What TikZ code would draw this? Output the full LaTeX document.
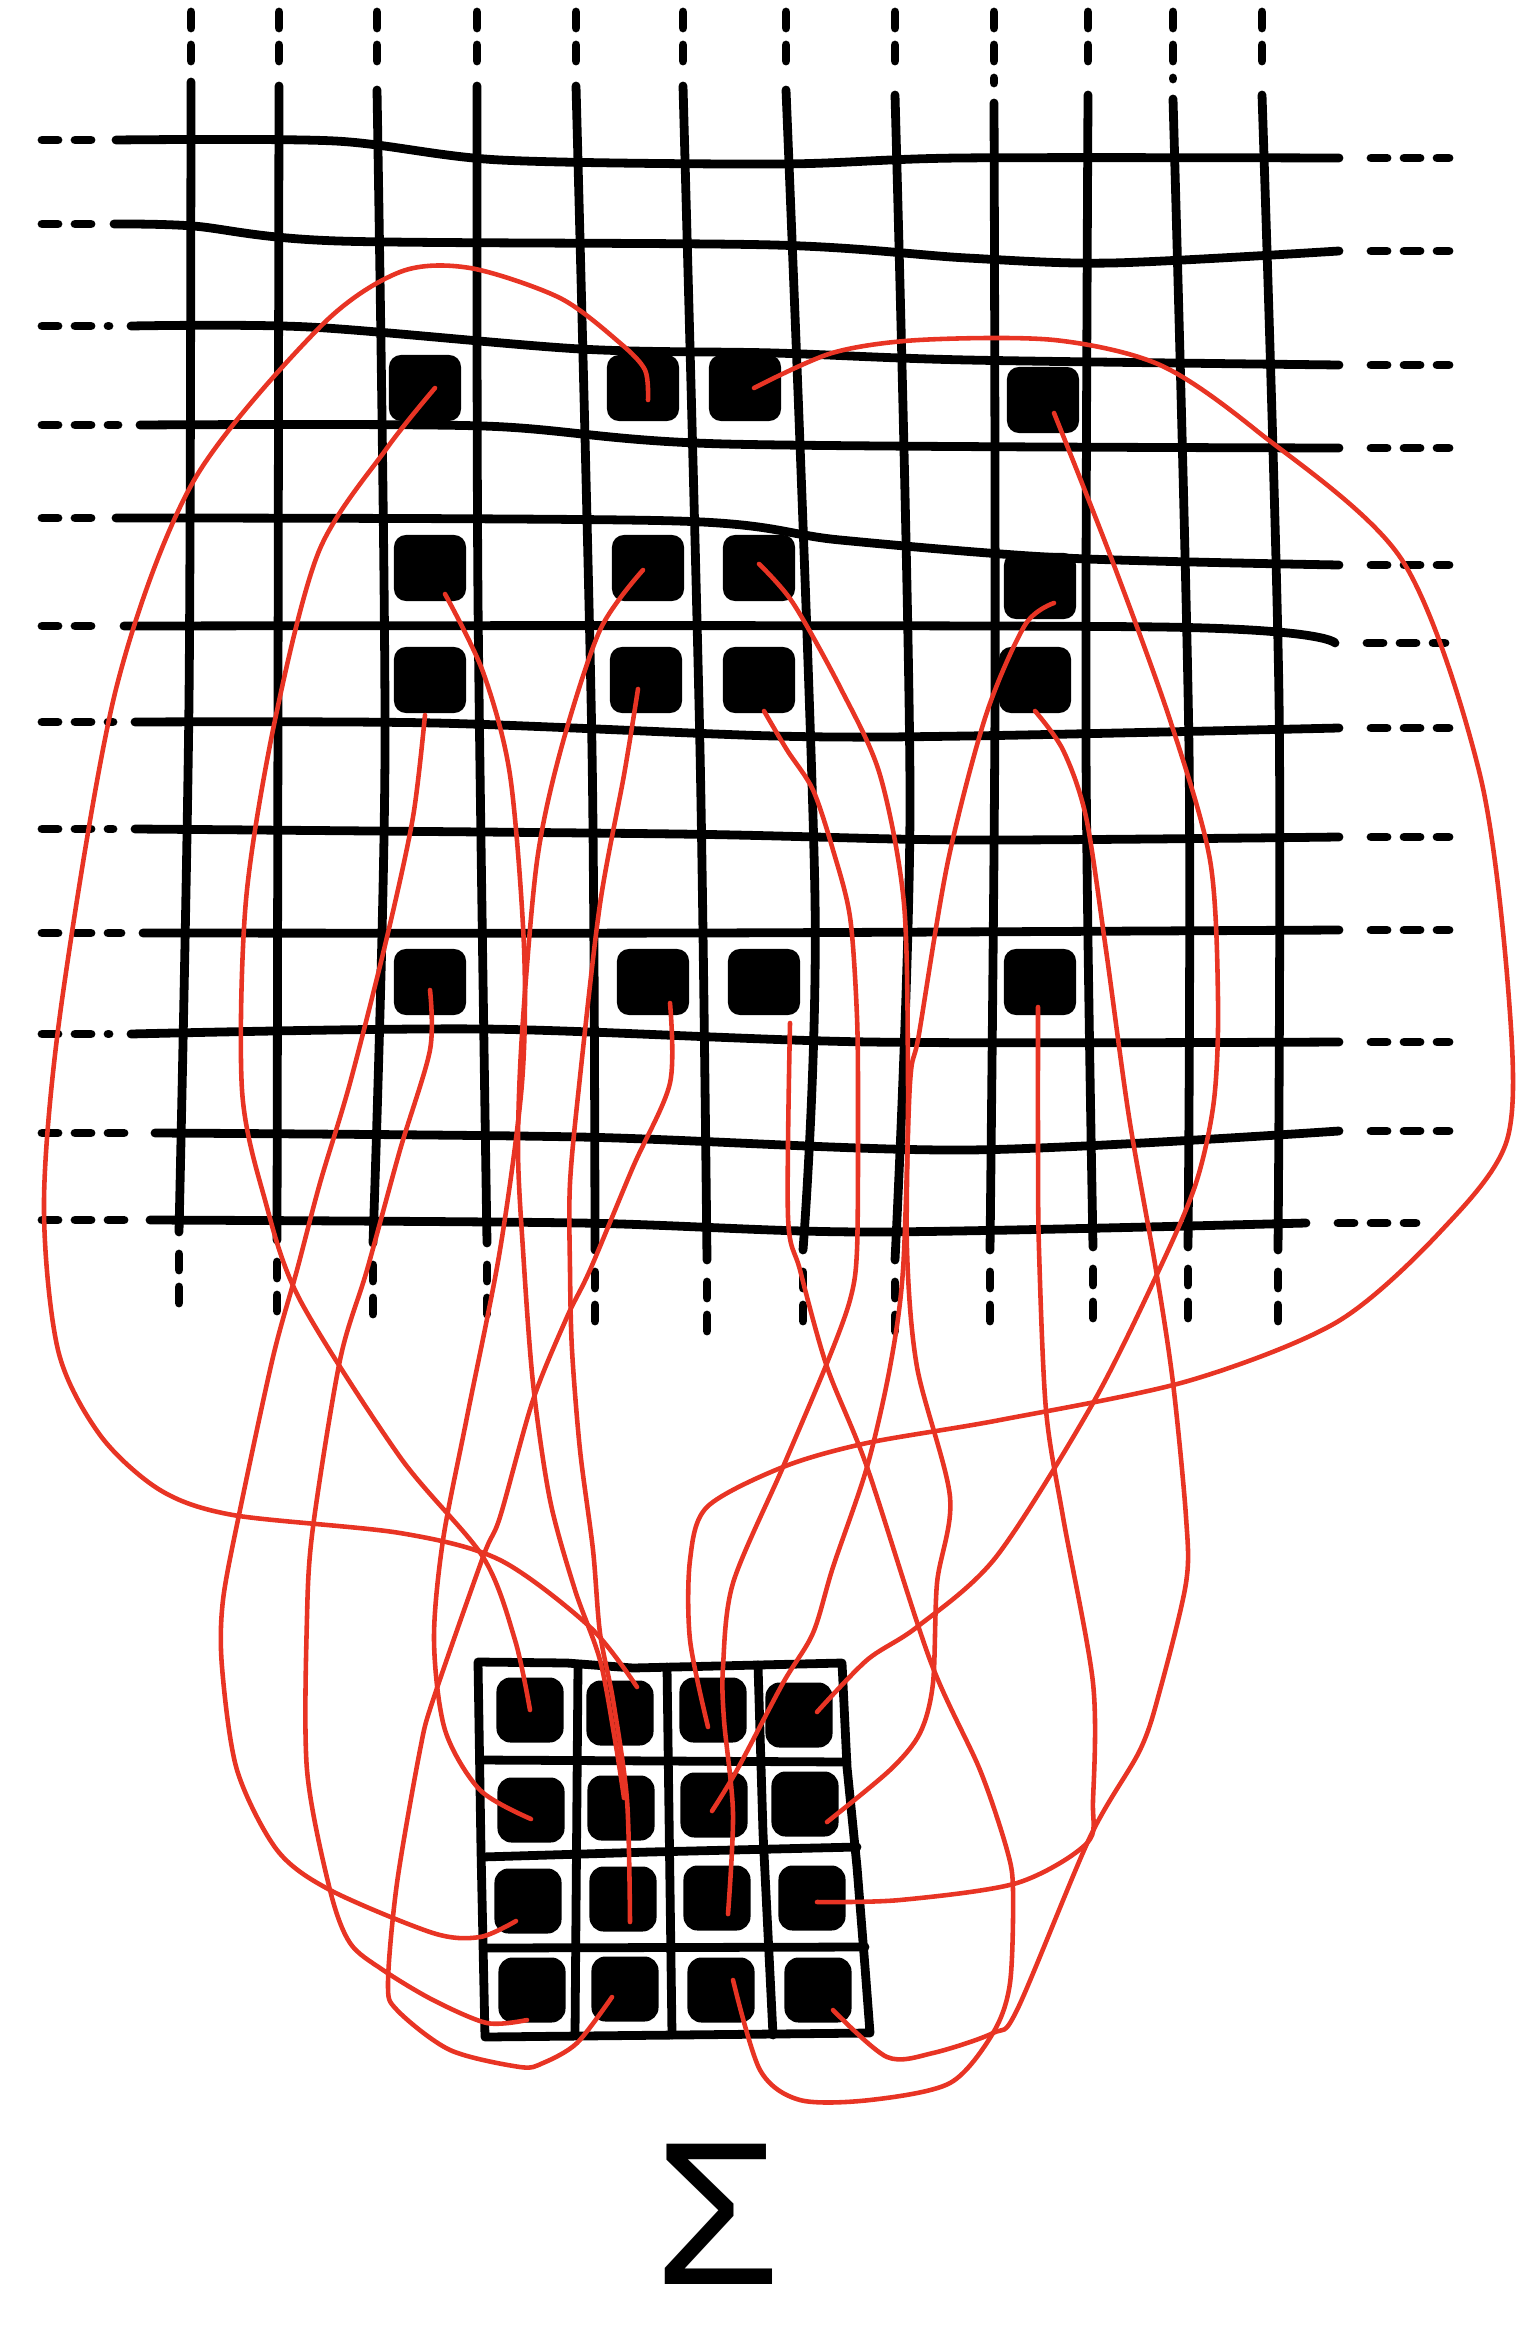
\documentclass[tikz,border=0pt]{standalone}
\usepackage{fontspec}
\newfontfamily\sigmafont{Liberation Sans}
\usetikzlibrary{calc}
\definecolor{wirered}{RGB}{232,52,36}

\tikzset{
  gridline/.style={line width=2.5pt, line cap=round, line join=round},
  stub/.style={gridline, dash pattern=on 0.16cm off 0.17cm},
  bigblob/.style={fill=black, rounded corners=0.12cm, minimum width=0.72cm, minimum height=0.66cm, inner sep=0pt},
  smallblob/.style={fill=black, rounded corners=0.14cm, minimum width=0.67cm, minimum height=0.65cm, inner sep=0pt},
  wire/.style={draw=wirered, line width=1.3pt, line cap=round, line join=round}
}

\begin{document}
\begin{tikzpicture}[x=0.01cm, y=-0.01cm]
  \useasboundingbox (0,0) rectangle (1516,2328);

  % Big grid: rows
  \draw[gridline] plot[smooth] coordinates {(116,140) (335,141) (500,160) (780,164) (960,158) (1339,158)};
  \draw[gridline] plot[smooth] coordinates {(114,224) (193,226) (338,241) (774,245) (967,258) (1112,263) (1339,251)};
  \draw[gridline] plot[smooth] coordinates {(131,326) (309,327) (580,349) (774,353) (967,360) (1339,365)};
  \draw[gridline] plot[smooth] coordinates {(140,425) (483,426) (725,444) (1339,448)};
  \draw[gridline] plot[smooth] coordinates {(116,518) (677,521) (840,540) (1064,558) (1339,565)};
  \draw[gridline] plot[smooth] coordinates {(124,626) (1160,627) (1335,643)};
  \draw[gridline] plot[smooth] coordinates {(135,722) (435,723) (774,736) (967,736) (1339,728)};
  \draw[gridline] plot[smooth] coordinates {(135,829) (677,834) (967,840) (1339,837)};
  \draw[gridline] plot[smooth] coordinates {(143,933) (700,933) (1339,930)};
  \draw[gridline] plot[smooth] coordinates {(131,1034) (483,1029) (870,1042) (1339,1042)};
  \draw[gridline] plot[smooth] coordinates {(155,1133) (580,1137) (967,1150) (1339,1131)};
  \draw[gridline] plot[smooth] coordinates {(150,1220) (580,1223) (870,1232) (1306,1223)};
  \foreach \xs/\yl/\xe/\yr in {116/140/1339/158, 114/224/1339/251, 131/326/1339/365,
      140/425/1339/448, 116/518/1339/565, 124/626/1335/643, 135/722/1339/728,
      135/829/1339/837, 143/933/1339/930, 131/1034/1339/1042, 155/1133/1339/1131,
      150/1220/1306/1223}{
    \draw[stub] (42,\yl) -- ({\xs-22},\yl);
    \draw[stub] ({\xe+32},\yr) -- ({\xe+110},\yr);
  }

  % Big grid: columns
  \foreach \xt/\yt/\xm/\ym/\xb/\yb in {191/82/189/700/179/1232, 279/86/278/700/277/1240,
      377/90/385/750/373/1243, 477/86/478/600/487/1243, 576/86/592/750/595/1250,
      683/86/700/750/707/1260, 786/90/815/900/803/1250, 895/95/910/800/895/1260,
      994/103/995/700/990/1250, 1088/95/1086/750/1093/1247, 1173/99/1189/750/1188/1247,
      1262/95/1279/700/1278/1250}{
    \draw[gridline] plot[smooth] coordinates {(\xt,\yt) (\xm,\ym) (\xb,\yb)};
    \draw[stub] (\xt,12) -- (\xt,{\yt-20});
    \draw[stub] (\xb,{\yb+22}) -- (\xb,{\yb+80});
  }

  % Marked cells
  \node[bigblob] (a1) at (425,388) {};
  \node[bigblob] (a2) at (643,388) {};
  \node[bigblob] (a3) at (745,388) {};
  \node[bigblob] (a4) at (1043,400) {};
  \node[bigblob] (b1) at (430,568) {};
  \node[bigblob] (b2) at (648,568) {};
  \node[bigblob] (b3) at (759,568) {};
  \node[bigblob] (b4) at (1040,586) {};
  \node[bigblob] (c1) at (430,680) {};
  \node[bigblob] (c2) at (646,680) {};
  \node[bigblob] (c3) at (759,680) {};
  \node[bigblob] (c4) at (1035,680) {};
  \node[bigblob] (d1) at (430,982) {};
  \node[bigblob] (d2) at (653,982) {};
  \node[bigblob] (d3) at (764,982) {};
  \node[bigblob] (d4) at (1040,982) {};

  % Small grid
  \coordinate (tl) at (478,1662);
  \coordinate (tr) at (842,1663);
  \coordinate (br) at (870,2033);
  \coordinate (bl) at (485,2037);
  \draw[gridline] (tl) -- (567,1663) -- (633,1668) -- (tr) -- (847,1767) -- (857,1867)
    -- (865,1967) -- (br) -- (bl) -- (481,1850) -- cycle;
  \draw[gridline] (578,1665) -- (575,2035);
  \draw[gridline] (667,1667) -- (672,2035);
  \draw[gridline] (758,1665) -- (763,1833) -- (773,2035);
  \draw[gridline] (480,1760) -- (847,1762);
  \draw[gridline] (482,1857) -- (650,1852) -- (857,1847);
  \draw[gridline] (484,1948) -- (865,1947);

  \node[smallblob] (s11) at (530,1710) {};
  \node[smallblob] (s12) at (620,1713) {};
  \node[smallblob] (s13) at (713,1710) {};
  \node[smallblob] (s14) at (799,1715) {};
  \node[smallblob] (s21) at (531,1810) {};
  \node[smallblob] (s22) at (621,1808) {};
  \node[smallblob] (s23) at (714,1805) {};
  \node[smallblob] (s24) at (805,1804) {};
  \node[smallblob] (s31) at (528,1901) {};
  \node[smallblob] (s32) at (623,1899) {};
  \node[smallblob] (s33) at (717,1898) {};
  \node[smallblob] (s34) at (812,1898) {};
  \node[smallblob] (s41) at (532,1990) {};
  \node[smallblob] (s42) at (625,1989) {};
  \node[smallblob] (s43) at (721,1990) {};
  \node[smallblob] (s44) at (818,1990) {};

  % Wires
  \draw[wire] plot[smooth] coordinates {($(a1)+(10,0)$) (387,448) (319,551) (275,720) (246,900)
    (242,1090) (265,1200) (300,1300) (400,1457) (483,1557) (515,1640) (s11)};
  \draw[wire] plot[smooth] coordinates {($(a2)+(5,12)$) (645,370) (620,343) (560,298) (470,268)
    (400,272) (320,327) (193,482) (116,689) (62,1000) (44,1200) (58,1350) (100,1435) (160,1490)
    (233,1515) (400,1533) (500,1560) (590,1627) ($(s12)+(17,-26)$)};
  \draw[wire] plot[smooth] coordinates {($(a3)+(9,0)$) (832,353) (919,340) (1054,340) (1160,365)
    (1257,431) (1402,560) (1480,775) (1509,1000) (1507,1140) (1440,1232) (1337,1322) (1188,1381)
    (1000,1420) (867,1443) (783,1467) (707,1507) (690,1560) (690,1640) ($(s13)+(-5,17)$)};
  \draw[wire] plot[smooth] coordinates {($(a4)+(11,13)$) (1112,560) (1170,720) (1210,860)
    (1218,1000) (1214,1100) (1196,1183) (1159,1270) (1093,1403) (996,1557) (917,1627) (867,1660)
    ($(s14)+(18,-3)$)};
  \draw[wire] plot[smooth] coordinates {($(b1)+(15,26)$) (483,672) (510,775) (524,947) (522,1083)
    (500,1250) (467,1417) (443,1540) (434,1640) (445,1730) (480,1790) ($(s21)+(0,9)$)};
  \draw[wire] plot[smooth] coordinates {($(b2)+(-5,2)$) (600,630) (561,749) (537,861) (522,1034)
    (518,1150) (523,1250) (533,1383) (550,1500) (575,1590) (600,1660) (615,1740) ($(s22)+(3,-10)$)};
  \draw[wire] plot[smooth] coordinates {($(b3)+(0,-4)$) (793,603) (841,689) (880,775) (904,904)
    (908,1083) (907,1250) (917,1367) (950,1497) (937,1583) (933,1683) (920,1733) (890,1770)
    ($(s24)+(22,18)$)};
  \draw[wire] plot[smooth] coordinates {($(b4)+(14,17)$) (1025,625) (986,715) (948,861) (919,1034)
    (910,1083) (903,1270) (890,1367) (867,1467) (833,1567) (813,1633) (783,1683) (737,1770)
    ($(s23)+(-2,6)$)};
  \draw[wire] plot[smooth] coordinates {($(c1)+(-5,35)$) (413,817) (387,937) (350,1083) (320,1183)
    (297,1270) (273,1357) (240,1510) (223,1600) (222,1667) (237,1770) (277,1850) (330,1890)
    (433,1933) (480,1937) ($(s31)+(-12,20)$)};
  \draw[wire] plot[smooth] coordinates {($(c2)+(-8,9)$) (624,775) (600,904) (580,1077) (570,1183)
    (570,1270) (572,1350) (580,1450) (593,1550) (600,1633) (613,1700) (627,1800) ($(s32)+(7,23)$)};
  \draw[wire] plot[smooth] coordinates {($(c3)+(5,31)$) (787,750) (813,790) (833,850) (850,917)
    (857,1017) (858,1117) (857,1250) (850,1300) (827,1363) (783,1467) (733,1583) (723,1667)
    (724,1720) (733,1813) ($(s33)+(11,16)$)};
  \draw[wire] plot[smooth] coordinates {($(c4)+(0,31)$) (1063,750) (1086,817) (1106,950)
    (1129,1117) (1156,1270) (1173,1383) (1186,1517) (1186,1583) (1160,1690) (1140,1750)
    (1090,1837) (1017,2010) (993,2033) (933,2053) (887,2057) ($(s44)+(15,20)$)};
  \draw[wire] plot[smooth] coordinates {($(d1)+(0,8)$) (430,1050) (400,1150) (367,1270) (340,1360)
    (313,1527) (307,1617) (307,1770) (330,1890) (350,1943) (383,1970) (433,2000) (487,2023)
    ($(s41)+(-5,30)$)};
  \draw[wire] plot[smooth] coordinates {($(d2)+(17,21)$) (670,1083) (633,1167) (590,1270)
    (567,1317) (533,1400) (500,1517) (483,1557) (433,1700) (420,1750) (397,1883) (388,1983)
    (397,2010) (450,2050) (520,2067) (543,2063) (577,2043) ($(s42)+(-13,8)$)};
  \draw[wire] plot[smooth] coordinates {($(d3)+(26,41)$) (788,1217) (800,1270) (827,1367)
    (867,1467) (930,1660) (980,1770) (1007,1850) (1013,1890) (1010,1983) (993,2033) (950,2083)
    (870,2100) (800,2100) (760,2070) ($(s43)+(12,-10)$)};
  \draw[wire] plot[smooth] coordinates {($(d4)+(-2,25)$) (1038,1150) (1039,1250) (1046,1410)
    (1063,1517) (1093,1683) (1093,1800) (1087,1843) (1017,1883) (900,1900) ($(s34)+(5,4)$)};

  % Sum
  \node[font=\sigmafont\fontsize{58}{58}\selectfont, inner sep=0pt, anchor=base] (sigma) at (718,2284) {Σ};

\end{tikzpicture}
\end{document}
